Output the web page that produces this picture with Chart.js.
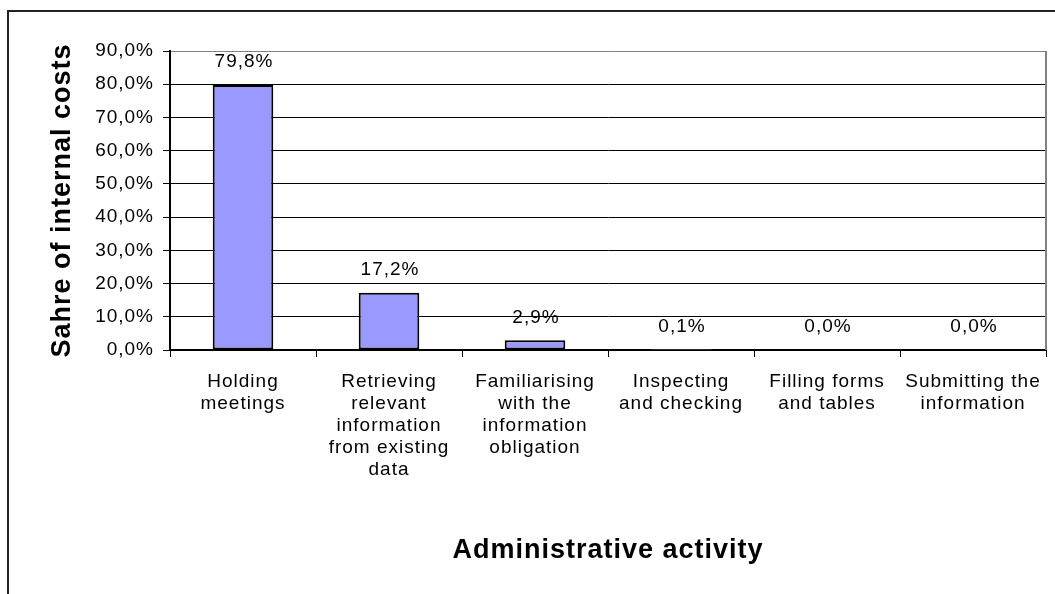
<html>
<head>
<meta charset="utf-8">
<script src="https://cdn.jsdelivr.net/npm/chart.js@4"></script>
<style>
  body { margin: 0; background: #fff; }
  #wrap { width: 1055px; height: 594px; }
</style>
</head>
<body>
<div id="wrap"><canvas id="costChart"></canvas></div>

<script type="text/javascript">
    // data
    const activities = [
        ['Holding', 'meetings'],
        ['Retrieving', 'relevant', 'information', 'from existing', 'data'],
        ['Familiarising', 'with the', 'information', 'obligation'],
        ['Inspecting', 'and checking'],
        ['Filling forms', 'and tables'],
        ['Submitting the', 'information']
    ];
    const shareOfCosts = [79.8, 17.2, 2.9, 0.1, 0.0, 0.0];
    const yTicks = [0, 10, 20, 30, 40, 50, 60, 70, 80, 90];

    const FONT = "'Liberation Sans', Arial, sans-serif";
    const SPACING = '1px';

    function pct(v) {
        return v.toFixed(1).replace('.', ',') + '%';
    }

    // excel-ish wide text, chart frame, plot border, value labels
    const excelLook = {
        id: 'excelLook',
        beforeLayout(chart) { chart.ctx.letterSpacing = SPACING; },
        beforeDraw(chart) {
            const ctx = chart.ctx;
            ctx.letterSpacing = SPACING;
            ctx.save();
            ctx.strokeStyle = '#222';
            ctx.lineWidth = 2;
            ctx.beginPath();
            ctx.moveTo(8, chart.height);
            ctx.lineTo(8, 11);
            ctx.lineTo(chart.width, 11);
            ctx.stroke();
            ctx.restore();
        },
        afterDatasetsDraw(chart) {
            const ctx = chart.ctx;
            const area = chart.chartArea;
            ctx.save();
            ctx.strokeStyle = '#808080';
            ctx.lineWidth = 2;
            ctx.beginPath();
            ctx.moveTo(area.right, area.top);
            ctx.lineTo(area.right, area.bottom);
            ctx.stroke();

            ctx.letterSpacing = SPACING;
            ctx.font = '19px ' + FONT;
            ctx.fillStyle = '#000';
            ctx.textAlign = 'center';
            ctx.textBaseline = 'middle';
            const meta = chart.getDatasetMeta(0);
            meta.data.forEach((bar, i) => {
                ctx.fillText(pct(shareOfCosts[i]), bar.x + 1, bar.y - 23);
            });
            ctx.restore();
        }
    };

    const costChart = new Chart(document.getElementById('costChart'), {
        type: 'bar',
        data: {
            labels: activities,
            datasets: [{
                label: 'Share of internal costs',
                data: shareOfCosts,
                backgroundColor: '#9999ff',
                borderColor: '#000',
                borderWidth: ctx => (ctx.raw < 0.5 ? 0 : 2),
                borderSkipped: false,
                barPercentage: 0.415,
                categoryPercentage: 1
            }]
        },
        plugins: [excelLook],
        options: {
            responsive: true,
            maintainAspectRatio: false,
            animation: false,
            layout: { padding: { top: 51, right: 3, left: 0, bottom: 0 } },
            plugins: {
                legend: { display: false },
                tooltip: { enabled: false }
            },
            scales: {
                x: {
                    afterFit(scale) { scale.height = 244; },
                    border: { color: '#000', width: 2 },
                    grid: {
                        offset: true,
                        drawOnChartArea: false,
                        drawTicks: true,
                        tickLength: 7,
                        tickColor: '#000'
                    },
                    ticks: {
                        color: '#000',
                        font: { family: FONT, size: 19, lineHeight: 1.16 },
                        padding: 14,
                        maxRotation: 0,
                        autoSkip: false
                    },
                    title: {
                        display: true,
                        text: 'Administrative activity',
                        color: '#000',
                        font: { family: FONT, size: 27, weight: 'bold' },
                        padding: { top: 0, bottom: 27 }
                    }
                },
                y: {
                    min: 0,
                    max: 90,
                    afterFit(scale) { scale.width = 170; },
                    afterBuildTicks(scale) {
                        scale.ticks = yTicks.map(v => ({ value: v }));
                    },
                    border: { color: '#000', width: 2 },
                    grid: {
                        color: ctx => (ctx.tick && ctx.tick.value === 90) ? '#808080' : '#000',
                        lineWidth: 1,
                        tickLength: 7,
                        tickColor: '#000'
                    },
                    ticks: {
                        color: '#000',
                        font: { family: FONT, size: 19 },
                        padding: 9,
                        callback: v => pct(v)
                    },
                    title: {
                        display: true,
                        text: 'Sahre of internal costs',
                        color: '#000',
                        font: { family: FONT, size: 27, weight: 'bold' },
                        padding: { top: 46, bottom: 0 }
                    }
                }
            }
        }
    });
</script>
</body>
</html>
